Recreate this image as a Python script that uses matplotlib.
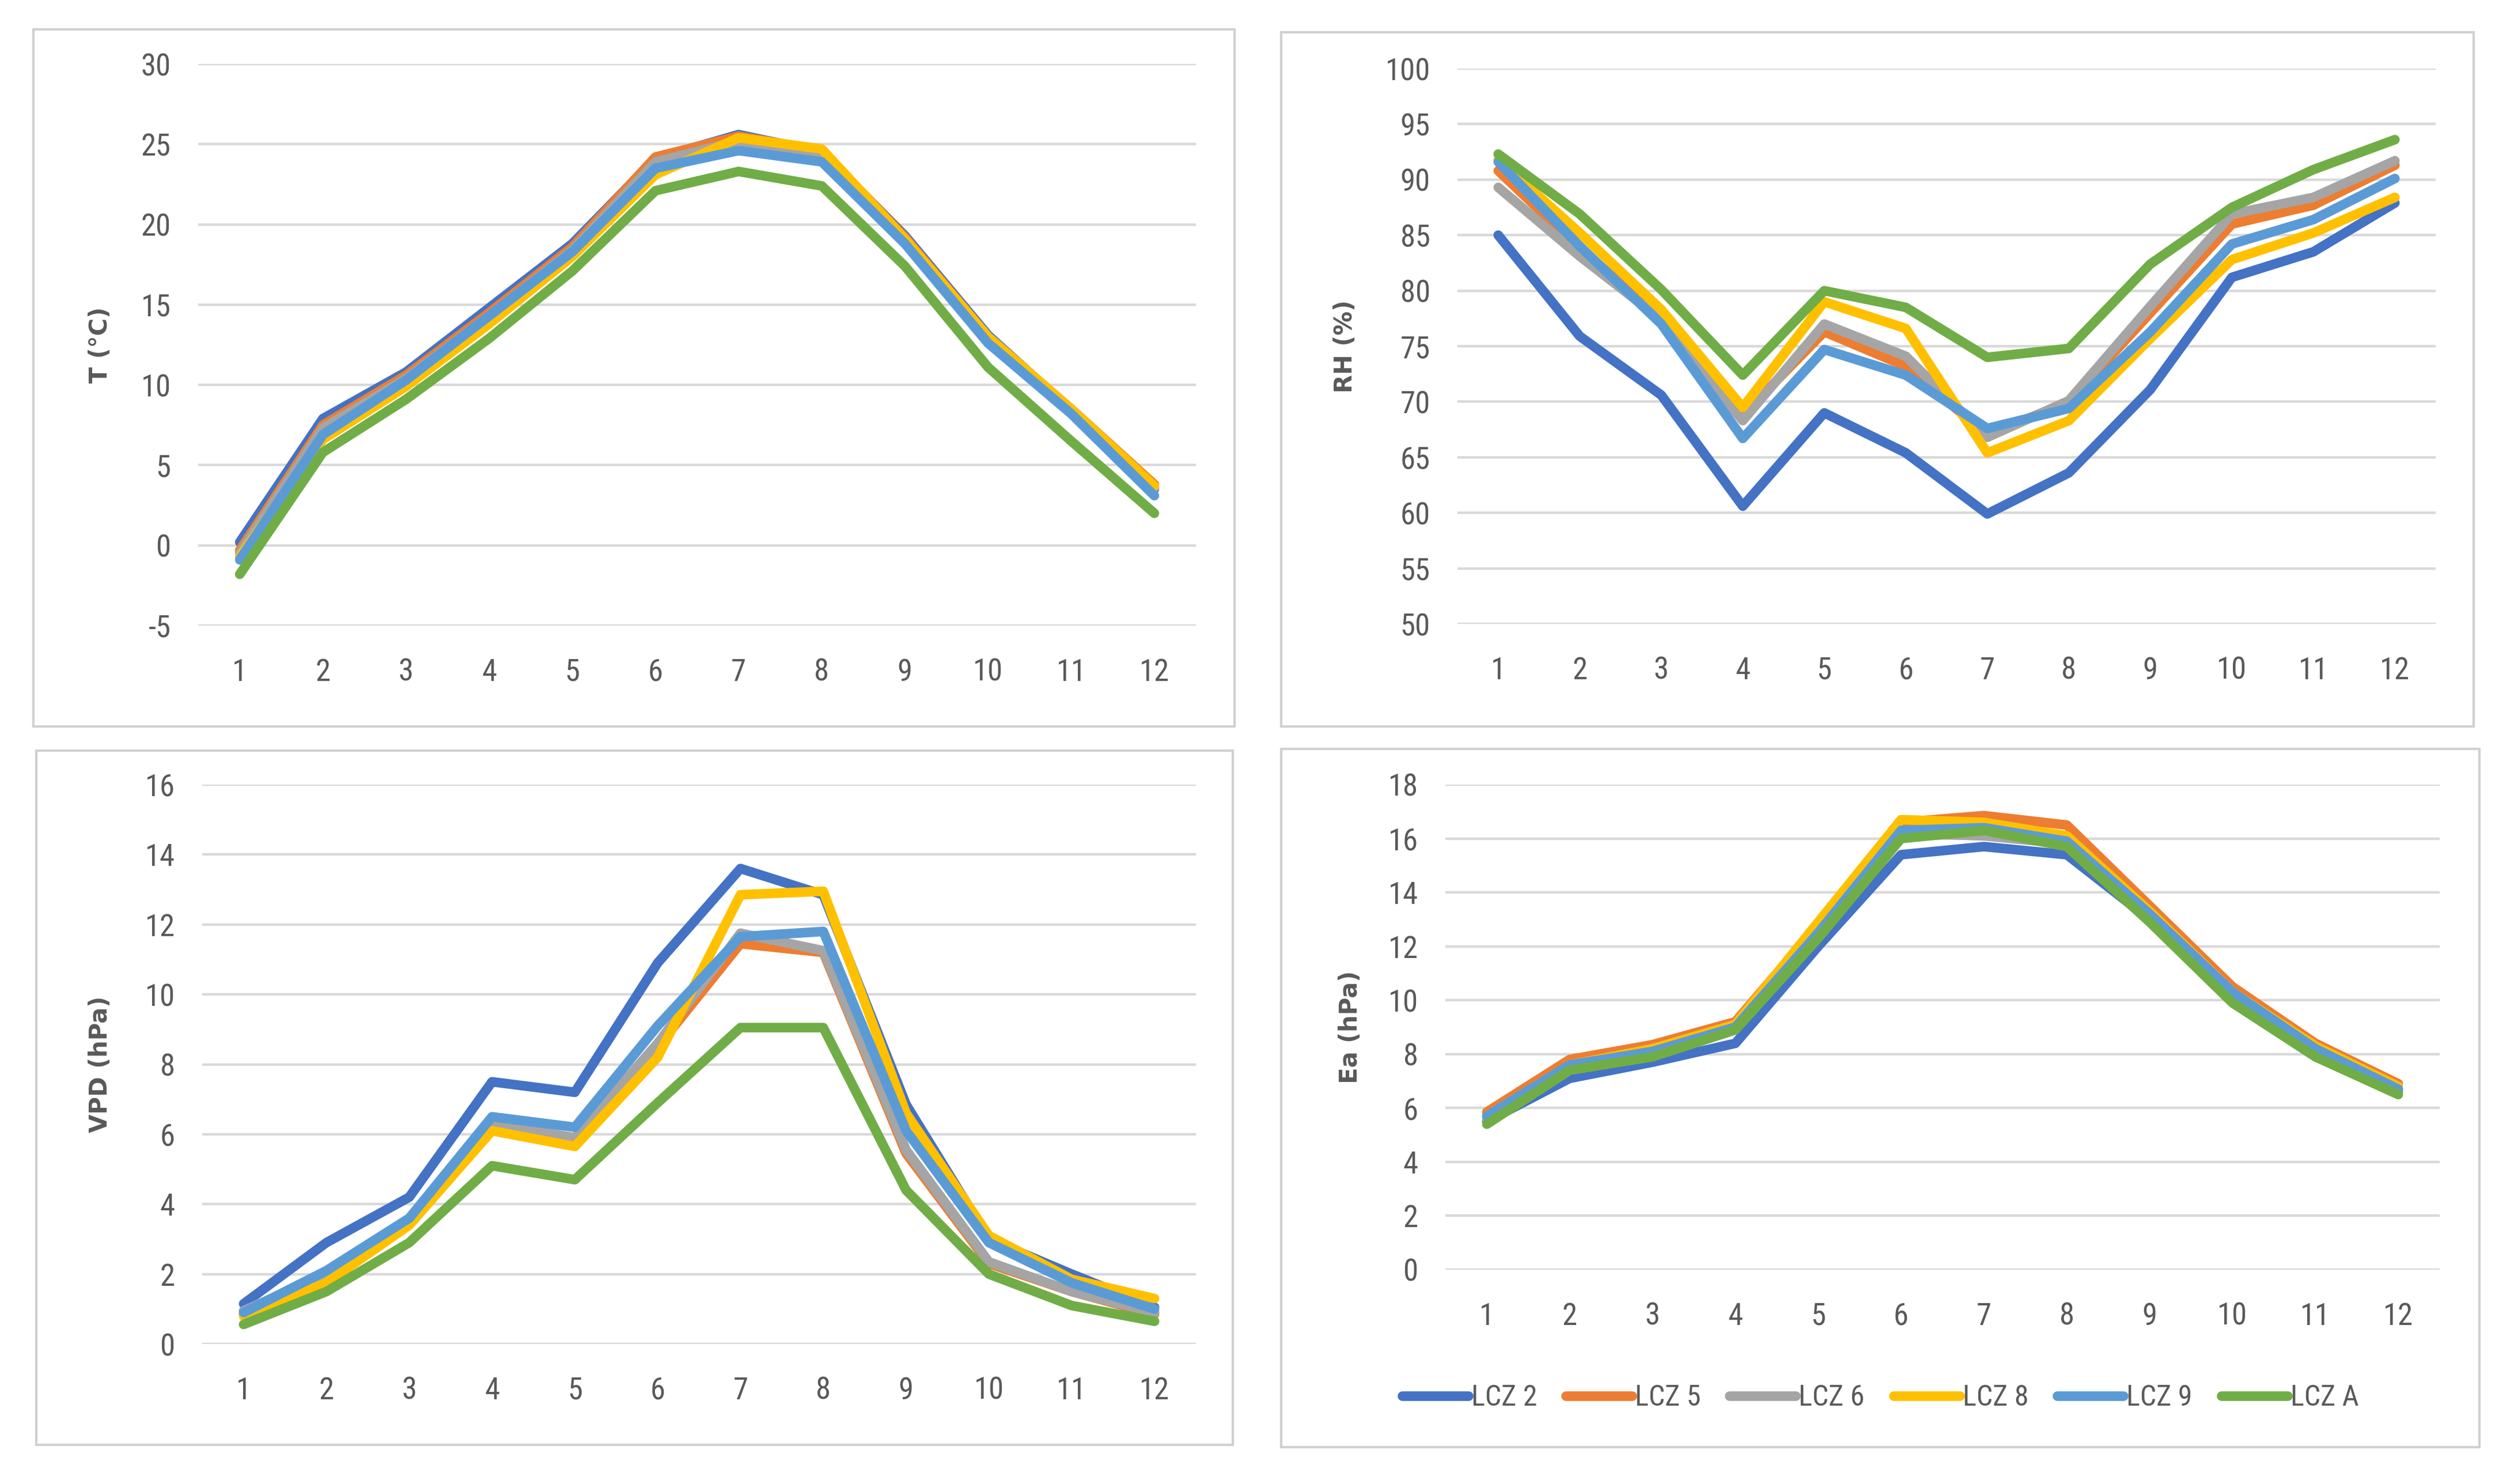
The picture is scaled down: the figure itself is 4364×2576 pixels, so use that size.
import numpy as np
import matplotlib
matplotlib.use("Agg")
import matplotlib.pyplot as plt
from matplotlib.patches import Rectangle

# ── Données ──
months = list(range(1, 13))
series = ["LCZ 2", "LCZ 5", "LCZ 6", "LCZ 8", "LCZ 9", "LCZ A"]
colors = ["#4472C4", "#ED7D31", "#A5A5A5", "#FFC000", "#5B9BD5", "#70AD47"]

T = [
    [0.2, 7.9, 10.8, 14.8, 18.8, 24.1, 25.6, 24.5, 19.3, 13.1, 8.4, 3.5],
    [-0.3, 7.5, 10.6, 14.5, 18.6, 24.2, 25.5, 24.6, 19.2, 13.0, 8.5, 3.8],
    [-0.5, 7.3, 10.4, 14.3, 18.4, 23.9, 25.2, 24.4, 19.0, 12.9, 8.3, 3.6],
    [-0.7, 6.6, 9.9, 13.8, 18.0, 23.1, 25.4, 24.7, 19.1, 13.0, 8.5, 3.7],
    [-0.9, 6.9, 10.3, 14.3, 18.3, 23.5, 24.6, 23.9, 18.8, 12.6, 8.2, 3.1],
    [-1.8, 5.8, 9.1, 12.9, 17.1, 22.1, 23.3, 22.4, 17.4, 11.1, 6.5, 2.0],
]
RH = [
    [85.0, 75.9, 70.6, 60.6, 69.0, 65.4, 59.9, 63.6, 71.1, 81.2, 83.5, 87.9],
    [90.8, 83.8, 77.6, 68.8, 76.3, 73.2, 67.0, 70.0, 78.0, 86.0, 87.7, 91.3],
    [89.3, 83.1, 77.4, 68.3, 77.0, 74.1, 66.8, 70.1, 78.6, 86.9, 88.4, 91.7],
    [91.8, 85.2, 78.3, 69.5, 79.0, 76.6, 65.4, 68.3, 75.7, 82.8, 85.2, 88.4],
    [91.6, 84.0, 77.0, 66.7, 74.7, 72.4, 67.6, 69.4, 76.3, 84.2, 86.4, 90.1],
    [92.3, 86.9, 80.1, 72.4, 80.0, 78.5, 74.0, 74.8, 82.4, 87.5, 90.9, 93.6],
]
VPD = [
    [1.15, 2.9, 4.2, 7.5, 7.2, 10.9, 13.6, 12.85, 6.85, 3.0, 2.0, 1.05],
    [0.85, 1.9, 3.45, 6.2, 5.8, 8.5, 11.45, 11.2, 5.45, 2.3, 1.5, 0.85],
    [0.95, 2.0, 3.5, 6.3, 5.9, 8.6, 11.75, 11.25, 5.55, 2.35, 1.5, 0.9],
    [0.8, 1.75, 3.4, 6.1, 5.65, 8.2, 12.85, 12.95, 6.6, 3.1, 1.85, 1.3],
    [0.9, 2.1, 3.6, 6.5, 6.2, 9.1, 11.65, 11.8, 6.1, 2.9, 1.75, 1.0],
    [0.56, 1.5, 2.9, 5.1, 4.7, 6.9, 9.05, 9.05, 4.4, 2.0, 1.1, 0.65],
]
EA = [
    [5.5, 7.1, 7.7, 8.4, 12.0, 15.4, 15.7, 15.4, 13.0, 10.0, 8.0, 6.6],
    [5.85, 7.8, 8.35, 9.2, 12.8, 16.6, 16.85, 16.5, 13.5, 10.5, 8.4, 6.9],
    [5.6, 7.5, 8.1, 9.0, 12.4, 16.2, 16.1, 15.8, 13.1, 10.2, 8.2, 6.7],
    [5.7, 7.6, 8.2, 9.1, 12.9, 16.7, 16.6, 16.1, 13.3, 10.3, 8.3, 6.8],
    [5.7, 7.6, 8.1, 9.0, 12.5, 16.3, 16.4, 15.9, 13.2, 10.3, 8.2, 6.7],
    [5.4, 7.4, 7.9, 8.9, 12.3, 16.0, 16.3, 15.7, 12.9, 9.9, 7.9, 6.5],
]

W, H = 4364, 2576
TICK_FONT = ["Liberation Sans Narrow", "Roboto Condensed", "Liberation Sans", "DejaVu Sans"]
GREY_TXT = "#595959"
GRID = "#D9D9D9"

fig = plt.figure(figsize=(W / 100, H / 100), dpi=100)
fig.patch.set_facecolor("white")


def px_box(x0, y0, x1, y1):
    # pixels (origine en haut à gauche) -> fraction de figure
    return [x0 / W, 1 - y1 / H, (x1 - x0) / W, (y1 - y0) / H]


# cadres gris autour de chaque graphique
for b in [(58, 51, 2143, 1261), (2224, 56, 4294, 1261),
          (63, 1303, 2140, 2508), (2224, 1300, 4304, 2512)]:
    r = px_box(*b)
    fig.patches.append(Rectangle((r[0], r[1]), r[2], r[3], transform=fig.transFigure,
                                 fill=False, edgecolor="#D0D0D0", linewidth=3))

panels = [
    # data, box axes (px), ylim, yticks, ylabel, label x (px)
    (T, (344, 111, 2076, 1086), (-5, 30), np.arange(-5, 31, 5), "T (°C)", 174),
    (RH, (2530, 119, 4228, 1083), (50, 100), np.arange(50, 101, 5), "RH (%)", 2335),
    (VPD, (351, 1362, 2076, 2333), (0, 16), np.arange(0, 17, 2), "VPD (hPa)", 174),
    (EA, (2509, 1362, 4235, 2204), (0, 18), np.arange(0, 19, 2), "Ea (hPa)", 2344),
]

for data, box, ylim, yticks, ylabel, lx in panels:
    ax = fig.add_axes(px_box(*box))
    for vals, name, col in zip(data, series, colors):
        ax.plot(months, vals, color=col, linewidth=12, label=name,
                solid_joinstyle="round", solid_capstyle="round", zorder=3)
    ax.set_xlim(0.5, 12.5)
    ax.set_ylim(*ylim)
    ax.set_xticks(months)
    ax.set_yticks(yticks)
    ax.set_yticklabels([str(v) for v in yticks])
    for s in ax.spines.values():
        s.set_visible(False)
    ax.grid(axis="y", color=GRID, linewidth=3.2, zorder=0)
    ax.set_axisbelow(True)
    ax.tick_params(axis="both", length=0, labelsize=38, colors=GREY_TXT)
    ax.tick_params(axis="x", pad=40)
    ax.tick_params(axis="y", pad=34)
    for lab in ax.get_xticklabels() + ax.get_yticklabels():
        lab.set_family(TICK_FONT)
    yc = 1 - (box[1] + box[3]) / 2 / H
    fig.text(lx / W, yc, ylabel, rotation=90, ha="center", va="center",
             fontsize=30, fontweight="bold", color=GREY_TXT)

handles, labels = ax.get_legend_handles_labels()
leg = fig.legend(handles, labels, loc="center", bbox_to_anchor=(3264 / W, 1 - 2426 / H),
                 ncol=6, frameon=False, handlelength=2.3, handletextpad=0.1,
                 columnspacing=1.0, prop={"family": TICK_FONT, "size": 36})
for t in leg.get_texts():
    t.set_color(GREY_TXT)

fig.savefig("out.png", dpi=100, facecolor="white")
